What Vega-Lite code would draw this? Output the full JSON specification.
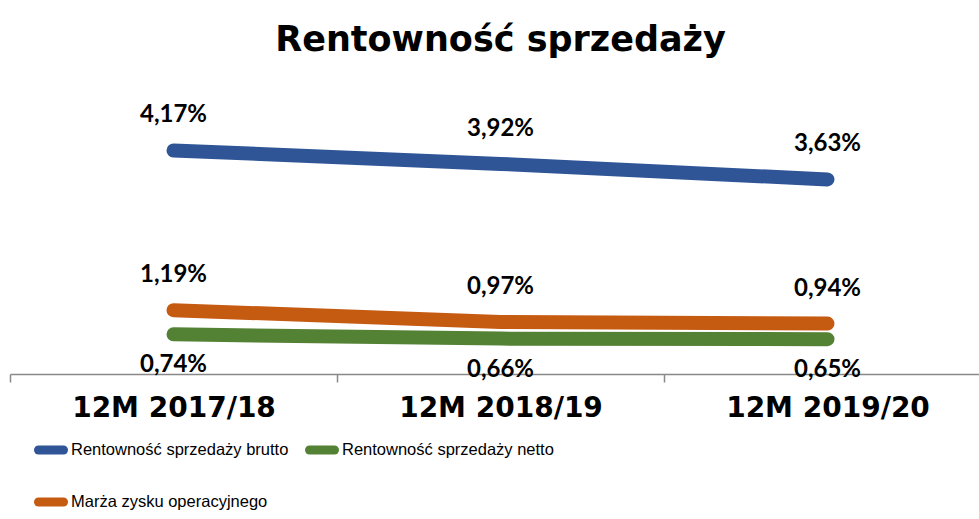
{
  "$schema": "https://vega.github.io/schema/vega-lite/v6.json",
  "autosize": "none",
  "width": 981,
  "height": 268,
  "padding": {"left": 10, "top": 106, "right": 0, "bottom": 145},
  "background": "white",
  "config": {
    "view": {"stroke": null},
    "locale": {"number": {"decimal": ",", "thousands": " ", "grouping": [3], "currency": ["", " zł"]}}
  },
  "title": {
    "text": "Rentowność sprzedaży",
    "font": "DejaVu Sans",
    "fontSize": 35,
    "fontWeight": "bold",
    "color": "#000000",
    "anchor": "middle",
    "baseline": "alphabetic",
    "offset": 17
  },
  "data": {
    "values": [
      {"seria": "Rentowność sprzedaży brutto", "okres": "12M 2017/18", "wartosc": 0.0417},
      {"seria": "Rentowność sprzedaży brutto", "okres": "12M 2018/19", "wartosc": 0.0392},
      {"seria": "Rentowność sprzedaży brutto", "okres": "12M 2019/20", "wartosc": 0.0363},
      {"seria": "Rentowność sprzedaży netto", "okres": "12M 2017/18", "wartosc": 0.0074},
      {"seria": "Rentowność sprzedaży netto", "okres": "12M 2018/19", "wartosc": 0.0066},
      {"seria": "Rentowność sprzedaży netto", "okres": "12M 2019/20", "wartosc": 0.0065},
      {"seria": "Marża zysku operacyjnego", "okres": "12M 2017/18", "wartosc": 0.0119},
      {"seria": "Marża zysku operacyjnego", "okres": "12M 2018/19", "wartosc": 0.0097},
      {"seria": "Marża zysku operacyjnego", "okres": "12M 2019/20", "wartosc": 0.0094}
    ]
  },
  "encoding": {
    "x": {
      "field": "okres",
      "type": "nominal",
      "sort": null,
      "bandPosition": 0.5,
      "scale": {"type": "band", "paddingInner": 0, "paddingOuter": 0},
      "axis": {
        "title": null,
        "orient": "bottom",
        "labelAngle": 0,
        "tickBand": "extent",
        "domainColor": "#898989",
        "domainWidth": 1.5,
        "tickColor": "#898989",
        "tickWidth": 1.5,
        "tickSize": 8,
        "labelFont": "DejaVu Sans",
        "labelFontSize": 28,
        "labelFontWeight": "bold",
        "labelColor": "#000000",
        "labelPadding": 12,
        "labelLimit": 400,
        "grid": false
      }
    },
    "y": {
      "field": "wartosc",
      "type": "quantitative",
      "scale": {"domain": [0, 0.05], "nice": false, "zero": true},
      "axis": null
    }
  },
  "layer": [
    {
      "mark": {"type": "line", "strokeWidth": 14, "strokeCap": "round", "strokeJoin": "round"},
      "encoding": {
        "color": {
          "field": "seria",
          "type": "nominal",
          "scale": {
            "domain": ["Rentowność sprzedaży brutto", "Rentowność sprzedaży netto", "Marża zysku operacyjnego"],
            "range": ["#2F5597", "#548235", "#C55A11"]
          },
          "legend": {
            "title": null,
            "orient": "none",
            "legendX": 24,
            "legendY": 327,
            "direction": "horizontal",
            "columns": 2,
            "columnPadding": 2,
            "rowPadding": 16,
            "symbolType": "stroke",
            "symbolSize": 625,
            "symbolStrokeWidth": 9,
            "labelFont": "Liberation Sans",
            "labelFontSize": 16.5,
            "labelColor": "#000000",
            "labelOffset": 3,
            "labelLimit": 400,
            "encode": {"symbols": {"update": {"strokeCap": {"value": "round"}}}}
          }
        }
      }
    },
    {
      "transform": [{"filter": "datum.seria !== 'Rentowność sprzedaży netto'"}],
      "mark": {"type": "text", "dy": -35, "font": "Lato", "fontSize": 24, "fontWeight": "bold", "color": "#000000"},
      "encoding": {
        "text": {"field": "wartosc", "type": "quantitative", "format": ".2%"}
      }
    },
    {
      "transform": [{"filter": "datum.seria === 'Rentowność sprzedaży netto'"}],
      "mark": {"type": "text", "dy": 31, "font": "Lato", "fontSize": 24, "fontWeight": "bold", "color": "#000000"},
      "encoding": {
        "text": {"field": "wartosc", "type": "quantitative", "format": ".2%"}
      }
    }
  ]
}
